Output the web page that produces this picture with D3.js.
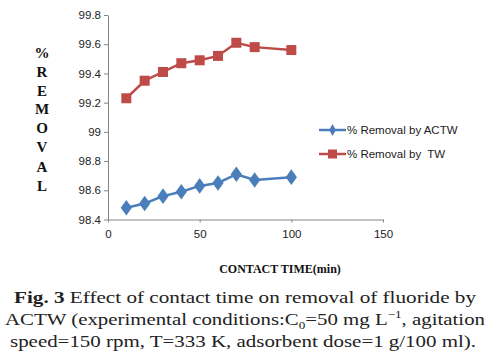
<!DOCTYPE html>
<html><head><meta charset="utf-8">
<script src="https://cdn.jsdelivr.net/npm/d3@7"></script>
<style>body{margin:0;background:#fff}svg{display:block}text{white-space:pre}</style>
</head><body>
<script>
const times = [10, 20, 30, 40, 50, 60, 70, 80, 100];
const actw = [98.48, 98.51, 98.56, 98.59, 98.63, 98.65, 98.71, 98.67, 98.69];
const tw = [99.23, 99.35, 99.41, 99.47, 99.49, 99.52, 99.61, 99.58, 99.56];
const xTicks = [0, 50, 100, 150];
const yTicks = [98.4, 98.6, 98.8, 99, 99.2, 99.4, 99.6, 99.8];
const seriesNames = ["% Removal by ACTW", "% Removal by  TW"];
const yLabelLetters = ["%", "R", "E", "M", "O", "V", "A", "L"];
const captionLines = [
  [["Fig. 3", true], [" Effect of contact time on removal of fluoride by", false]],
  null,
  [["speed=150 rpm, T=333 K, adsorbent dose=1 g/100 ml).", false]]
];

const W = 491, H = 357;
const svg = d3.select("body").append("svg").attr("width", W).attr("height", H);
const x = d3.scaleLinear().domain([0, 150]).range([108, 383]);
const y = d3.scaleLinear().domain([98.4, 99.8]).range([219.5, 15]);
const font = "'Liberation Sans', Arial, sans-serif";

const gx = svg.append("g").attr("transform", "translate(0,219.5)")
  .call(d3.axisBottom(x).tickValues(xTicks).tickSize(3).tickSizeOuter(0).tickFormat(d3.format("d")));
const gy = svg.append("g").attr("transform", "translate(108,0)")
  .call(d3.axisLeft(y).tickValues(yTicks).tickSize(4).tickSizeOuter(0).tickFormat(d => String(d)));
[gx, gy].forEach(g => {
  g.select(".domain").attr("stroke", "#868686");
  g.selectAll(".tick line").attr("stroke", "#868686");
  g.selectAll(".tick text").attr("fill", "#222").style("font-family", font).style("font-size", "11.5px");
});
gx.selectAll(".tick text").attr("dy", "1.1em");
gy.selectAll(".tick text").attr("x", -7);

const line = d3.line().x((d, i) => x(times[i])).y(d => y(d));
const colors = ["#4A7EBB", "#BE4B48"];

svg.append("path").datum(tw).attr("d", line).attr("fill", "none").attr("stroke", colors[1]).attr("stroke-width", 2.5);
svg.selectAll(".sq").data(tw).enter().append("rect")
  .attr("x", (d, i) => x(times[i]) - 5).attr("y", d => y(d) - 5)
  .attr("width", 10).attr("height", 10).attr("fill", colors[1]);
svg.append("path").datum(actw).attr("d", line).attr("fill", "none").attr("stroke", colors[0]).attr("stroke-width", 2.5);
const diamond = d3.symbol().type(d3.symbolDiamond).size(70);
svg.selectAll(".dm").data(actw).enter().append("path")
  .attr("d", diamond)
  .attr("transform", (d, i) => `translate(${x(times[i])},${y(d)}) scale(1.25,1)`)
  .attr("fill", colors[0]);

const leg = svg.append("g");
seriesNames.forEach((name, i) => {
  const ly = 130 + i * 24;
  leg.append("line").attr("x1", 319).attr("x2", 346).attr("y1", ly).attr("y2", ly)
    .attr("stroke", colors[i]).attr("stroke-width", 2.5);
  if (i === 0) {
    leg.append("path").attr("d", d3.symbol().type(d3.symbolDiamond).size(40)())
      .attr("transform", `translate(332.5,${ly})`).attr("fill", colors[0]);
  } else {
    leg.append("rect").attr("x", 328).attr("y", ly - 4.5).attr("width", 9).attr("height", 9).attr("fill", colors[1]);
  }
  leg.append("text").attr("x", 347).attr("y", ly + 4).text(name)
    .style("font-family", font).style("font-size", "11.5px").attr("fill", "#222");
});

const yl = [53, 72, 91, 109, 128, 147, 167, 186];
yLabelLetters.forEach((c, i) => {
  svg.append("text").attr("x", 42).attr("y", yl[i] + 5).attr("text-anchor", "middle")
    .text(c).style("font-family", "'Liberation Serif', 'Times New Roman', serif")
    .style("font-weight", "bold").style("font-size", "15px").attr("fill", "#111");
});

svg.append("text").attr("x", 280).attr("y", 273).attr("text-anchor", "middle")
  .style("font-family", "'Liberation Serif', 'Times New Roman', serif").style("font-weight", "bold")
  .style("font-size", "12px").attr("fill", "#111").text("CONTACT TIME(min)");

const capFont = "'Liberation Serif', 'Times New Roman', serif";
const cap = svg.append("g").style("font-family", capFont).style("font-size", "17.5px").attr("fill", "#222");
const t1 = cap.append("text").attr("x", 245).attr("y", 303).attr("text-anchor", "middle").attr("textLength", 462).attr("lengthAdjust", "spacingAndGlyphs");
captionLines[0].forEach(([s, b]) => t1.append("tspan").style("font-weight", b ? "bold" : "normal").text(s));
const t2 = cap.append("text").attr("x", 245).attr("y", 325).attr("text-anchor", "middle").attr("textLength", 480).attr("lengthAdjust", "spacingAndGlyphs");
t2.append("tspan").text("ACTW (experimental conditions:C");
t2.append("tspan").attr("dy", 4).style("font-size", "11px").text("0");
t2.append("tspan").attr("dy", -4).text("=50 mg L");
t2.append("tspan").attr("dy", -7).style("font-size", "11px").text("\u22121");
t2.append("tspan").attr("dy", 7).text(", agitation");
const t3 = cap.append("text").attr("x", 243).attr("y", 347).attr("text-anchor", "middle").attr("textLength", 466).attr("lengthAdjust", "spacingAndGlyphs");
t3.append("tspan").text(captionLines[2][0][0]);
</script>
</body></html>
